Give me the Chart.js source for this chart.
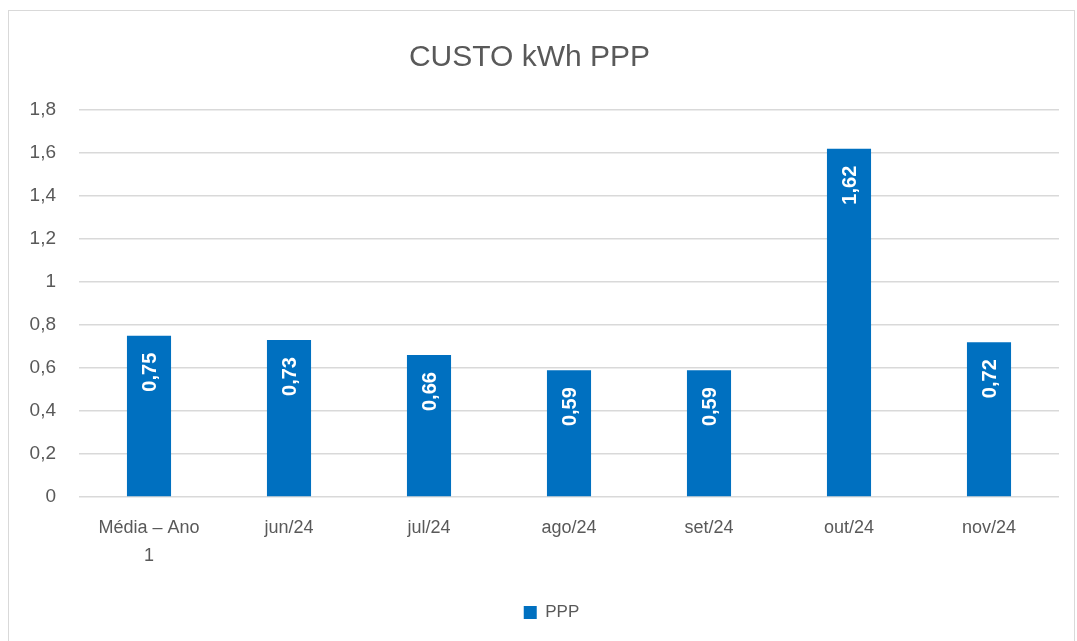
<!DOCTYPE html>
<html>
<head>
<meta charset="utf-8">
<script src="https://cdn.jsdelivr.net/npm/chart.js@4/dist/chart.umd.min.js"></script>
<style>
html,body{margin:0;padding:0;background:#fff;}
#wrap{position:absolute;left:0;top:0;width:1077px;height:641px;}
</style>
</head>
<body>
<div id="wrap"><canvas id="c" width="1077" height="641"></canvas></div>
<script>
const categories = [['Média – Ano', '1'], 'jun/24', 'jul/24', 'ago/24', 'set/24', 'out/24', 'nov/24'];
const seriesName = 'PPP';
const values = [0.75, 0.73, 0.66, 0.59, 0.59, 1.62, 0.72];
const yTickValues = [0, 0.2, 0.4, 0.6, 0.8, 1, 1.2, 1.4, 1.6, 1.8];
const yTickLabels = ['0', '0,2', '0,4', '0,6', '0,8', '1', '1,2', '1,4', '1,6', '1,8'];
const chartTitle = 'CUSTO kWh PPP';

const FONT = "'Liberation Sans', 'Open Sans', sans-serif";
const GREY = '#595959';
const BLUE = '#0070C0';

const frame = {
  id: 'frame',
  beforeDraw(chart) {
    const ctx = chart.ctx;
    ctx.save();
    ctx.strokeStyle = '#d9d9d9';
    ctx.lineWidth = 1;
    ctx.strokeRect(8.5, 10.5, 1066, 640);
    ctx.restore();
  }
};

const legendShift = {
  id: 'legendShift',
  afterLayout(chart) {
    if (chart.legend) {
      chart.legend.left += 22;
      chart.legend.right += 22;
    }
  }
};

const barLabels = {
  id: 'barLabels',
  afterDatasetsDraw(chart) {
    const ctx = chart.ctx;
    const meta = chart.getDatasetMeta(0);
    ctx.save();
    ctx.fillStyle = '#ffffff';
    ctx.font = "bold 20px " + FONT;
    ctx.textAlign = 'right';
    ctx.textBaseline = 'middle';
    meta.data.forEach((el, i) => {
      const txt = values[i].toFixed(2).replace('.', ',');
      ctx.save();
      ctx.translate(el.x + 1, el.y + 17);
      ctx.rotate(-Math.PI / 2);
      ctx.fillText(txt, 0, 0);
      ctx.restore();
    });
    ctx.restore();
  }
};

new Chart(document.getElementById('c'), {
  type: 'bar',
  data: {
    labels: categories,
    datasets: [{
      label: seriesName,
      data: values,
      backgroundColor: BLUE,
      borderWidth: 0,
      barPercentage: 0.63,
      categoryPercentage: 0.5
    }]
  },
  options: {
    responsive: false,
    animation: false,
    devicePixelRatio: 1,
    layout: { padding: { left: 0, right: 18, top: 23, bottom: 10 } },
    plugins: {
      title: {
        display: true,
        text: chartTitle,
        color: GREY,
        font: { family: FONT, size: 30, weight: 'normal' },
        padding: { top: 17, bottom: 34 }
      },
      legend: {
        display: true,
        position: 'bottom',
        labels: {
          color: GREY,
          font: { family: FONT, size: 17 },
          boxWidth: 13,
          boxHeight: 13,
          padding: 10
        }
      },
      tooltip: { enabled: false }
    },
    scales: {
      x: {
        grid: { display: false },
        border: { display: false },
        ticks: {
          color: GREY,
          font: { family: FONT, size: 18, lineHeight: 1.55 },
          maxRotation: 0,
          autoSkip: false,
          padding: 9
        },
        afterFit(scale) { scale.height = 97; }
      },
      y: {
        min: 0,
        max: 1.8,
        afterBuildTicks(scale) { scale.ticks = yTickValues.map(v => ({ value: v })); },
        grid: { color: '#d9d9d9', lineWidth: 1.5, drawTicks: false },
        border: { display: false },
        ticks: {
          color: GREY,
          font: { family: FONT, size: 19 },
          padding: 23,
          callback(value, index) { return yTickLabels[index]; }
        },
        afterFit(scale) { scale.width = 79; }
      }
    }
  },
  plugins: [frame, legendShift, barLabels]
});
</script>
</body>
</html>
